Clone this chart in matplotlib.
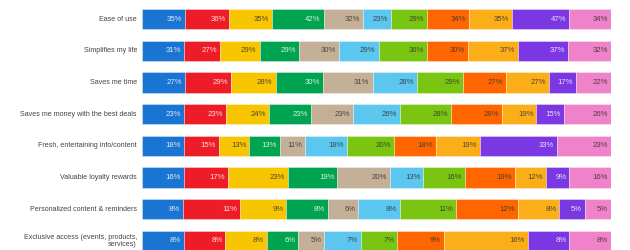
import matplotlib
matplotlib.use("Agg")
import matplotlib.pyplot as plt
import numpy as np

categories = [
    "Ease of use",
    "Simplifies my life",
    "Saves me time",
    "Saves me money with the best deals",
    "Fresh, entertaining info/content",
    "Valuable loyalty rewards",
    "Personalized content & reminders",
    "Exclusive access (events, products,\nservices)",
]

s1 = [35, 31, 27, 23, 18, 16, 8, 8]
s2 = [36, 27, 29, 23, 15, 17, 11, 8]
s3 = [35, 29, 28, 24, 13, 23, 9, 8]
s4 = [42, 29, 30, 23, 13, 19, 8, 6]
s5 = [32, 30, 31, 23, 11, 20, 6, 5]
s6 = [23, 29, 28, 26, 18, 13, 8, 7]
s7 = [29, 36, 29, 28, 20, 16, 11, 7]
s8 = [34, 30, 27, 28, 18, 19, 12, 9]
s9 = [35, 37, 27, 19, 19, 12, 8, 16]
s10 = [47, 37, 17, 15, 33, 9, 5, 8]
s11 = [34, 32, 22, 26, 23, 16, 5, 8]

series = [s1, s2, s3, s4, s5, s6, s7, s8, s9, s10, s11]
colors = ["#1A74D2", "#EE1C27", "#F7C600", "#00A34F", "#C4AF97", "#5BC6EE",
          "#7AC511", "#FF6600", "#FCAE18", "#7A37E2", "#EF82C8"]
light_text = [True, True, False, True, False, False, False, False, False, True, False]

plt.rcParams['font.family'] = ['Liberation Sans', 'DejaVu Sans']

W, H = 630, 250
fig = plt.figure(figsize=(W / 100, H / 100), dpi=100)
x0, x1 = 142, 611
ax = fig.add_axes([x0 / W, 0, (x1 - x0) / W, 1])

data = np.array(series, dtype=float)  # shape (n_series, n_cat)
totals = data.sum(axis=0)
frac = data / totals

n = len(categories)
y = np.arange(n)
row_px = 31.7
top_c = 19
ax.set_ylim((H - top_c) / row_px, -top_c / row_px)
ax.set_xlim(0, 1)

left = np.zeros(n)
px_per_unit = (x1 - x0)
pad = 3.0 / px_per_unit
for i, (vals, f) in enumerate(zip(data, frac)):
    ax.barh(y, f, left=left, height=0.64, color=colors[i],
            edgecolor=(1, 1, 1, 0.6), linewidth=0.4)
    for j in range(n):
        tc = (1, 1, 1, 0.85) if light_text[i] else (0.2, 0.2, 0.2, 0.85)
        ax.text(left[j] + f[j] - pad, y[j], f"{int(vals[j])}%", ha="right",
                va="center", fontsize=5.6, color=tc)
    left = left + f

for j in range(n):
    ax.text(-5.0 / px_per_unit, y[j], categories[j], ha="right", va="center",
            fontsize=5.1, color="#444444", linespacing=1.15)

ax.axis("off")
fig.savefig("out.png", dpi=100)
